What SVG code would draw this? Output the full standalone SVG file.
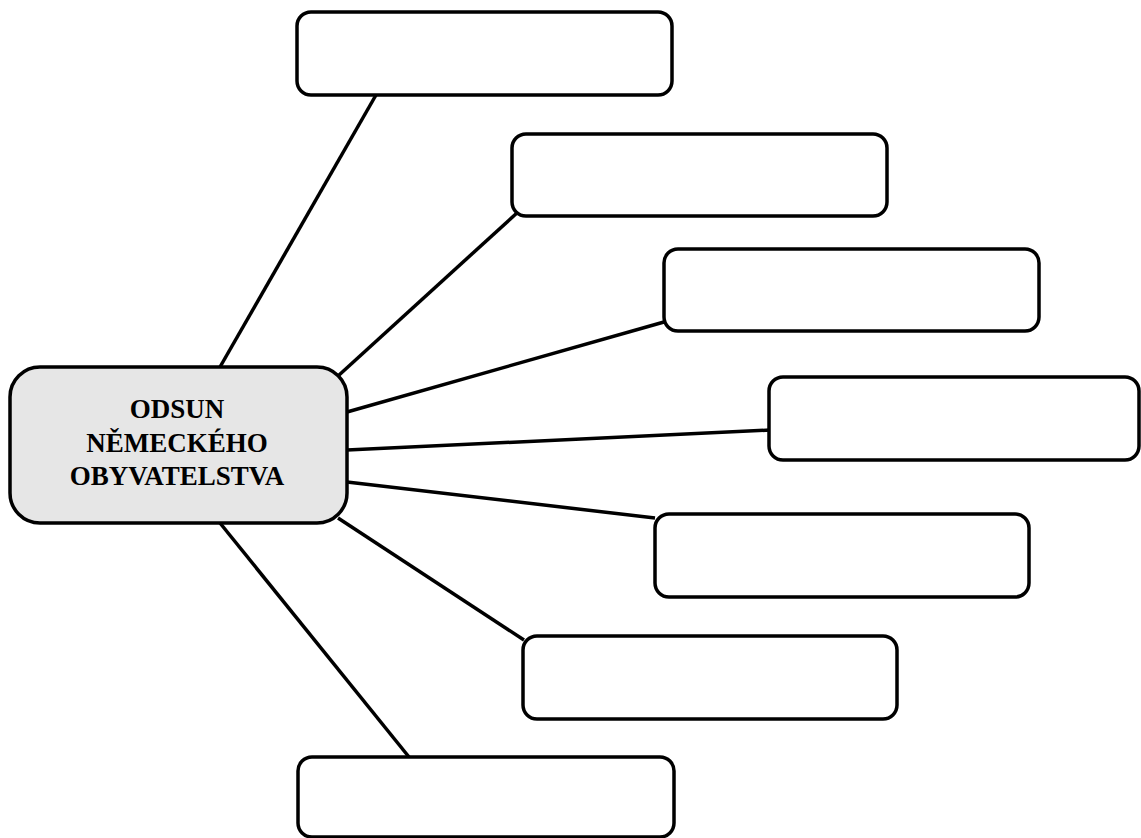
<svg xmlns="http://www.w3.org/2000/svg" width="1141" height="838" viewBox="0 0 1141 838">
<style>
.box{fill:#fff;stroke:#000;stroke-width:3.5}
.center{fill:#e6e6e6;stroke:#000;stroke-width:3.5}
.conn line{stroke:#000;stroke-width:3.5}
.t{font-family:"Liberation Serif",serif;font-weight:bold;font-size:27px;text-anchor:middle;fill:#000}
</style>
<rect width="1141" height="838" fill="#fff"/>
<g id="connectors" class="conn">
<line x1="220" y1="367" x2="376" y2="95"/>
<line x1="338" y1="376" x2="518" y2="212"/>
<line x1="347" y1="412" x2="664" y2="322"/>
<line x1="347" y1="450" x2="770" y2="430"/>
<line x1="347" y1="482" x2="655" y2="518"/>
<line x1="338" y1="518" x2="524" y2="640"/>
<line x1="220" y1="523" x2="409" y2="757"/>
</g>
<g id="center">
<rect class="center" x="10" y="367" width="337" height="156" rx="30"/>
<text class="t" x="177" y="418">ODSUN</text>
<text class="t" x="177" y="452">NĚMECKÉHO</text>
<text class="t" x="177" y="485">OBYVATELSTVA</text>
</g>
<g id="n1"><rect class="box" x="297" y="12" width="375" height="83" rx="14"/></g>
<g id="n2"><rect class="box" x="512" y="134" width="375" height="82" rx="14"/></g>
<g id="n3"><rect class="box" x="664" y="249" width="375" height="82" rx="14"/></g>
<g id="n4"><rect class="box" x="769" y="377" width="370" height="83" rx="14"/></g>
<g id="n5"><rect class="box" x="655" y="514" width="374" height="83" rx="14"/></g>
<g id="n6"><rect class="box" x="523" y="636" width="374" height="83" rx="14"/></g>
<g id="n7"><rect class="box" x="298" y="757" width="376" height="80" rx="14"/></g>
</svg>
